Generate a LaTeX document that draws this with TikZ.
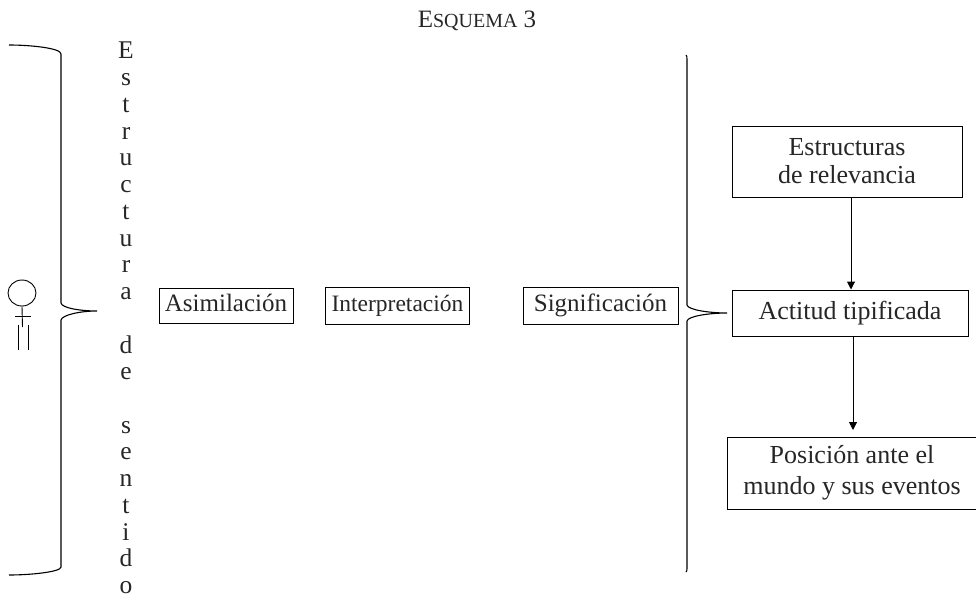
\documentclass[tikz,border=0pt]{standalone}
\usepackage{fontspec}
\setmainfont{Liberation Serif}
\usetikzlibrary{arrows.meta,calc,shapes.geometric}
\tikzset{
  box/.style={draw,line width=1pt,inner sep=0pt,align=center,text=black!85},
  rowbox/.style={box,text height=17pt,text depth=5pt,minimum height=37pt},
  flow/.style={draw,line width=1pt,-{Triangle[length=8pt,width=8pt]}},
  bracecurve/.style={draw,line width=1.1pt},
  symb/.style={draw,line width=0.9pt}
}
\begin{document}
\begin{tikzpicture}[x=1pt,y=-1pt]
\useasboundingbox (0,0) rectangle (976,594);
\node[text=black!85,font=\fontsize{25}{28}\selectfont,anchor=base] (title) at (477,28) {E{\fontsize{20}{24}\selectfont SQUEMA} 3};
\node[inner sep=0pt,align=center,text=black!85,font=\fontsize{25.5}{26.75}\selectfont,anchor=north] (vert) at (126,42)
 {E\\s\\t\\r\\u\\c\\t\\u\\r\\a\\[26.6pt]d\\e\\[26.6pt]s\\e\\n\\t\\i\\d\\o};
\path[bracecurve] (9,45) .. controls (30,45) and (61,48) .. (61,54) -- (61,303) .. controls (62,308) and (80,311) .. (97,311) .. controls (80,311) and (62,315) .. (61,320) -- (61,567) .. controls (61,572) and (30,575) .. (9,575);
\path[bracecurve] (686,55) .. controls (687,56) and (687,57) .. (687,60) -- (687,305) .. controls (688,310) and (710,313) .. (727,313) .. controls (710,313) and (688,316) .. (687,321) -- (687,568) .. controls (687,570) and (687,571) .. (686,572);
\node[rowbox,font=\fontsize{25}{29}\selectfont,minimum width=134pt,minimum height=35pt] (asi) at (226,305.5) {Asimilación};
\node[rowbox,font=\fontsize{23.5}{29}\selectfont,minimum width=144pt] (int) at (397.5,305.5) {Interpretación};
\node[rowbox,font=\fontsize{25}{29}\selectfont,minimum width=155pt] (sig) at (600.5,305.5) {Significación};
\node[box,font=\fontsize{26}{28}\selectfont,minimum width=230pt,minimum height=71pt] (est) at (847,161.5) {Estructuras\\de relevancia};
\node[box,font=\fontsize{26}{29}\selectfont,minimum width=236pt,minimum height=46pt] (act) at (850,313) {Actitud tipificada};
\node[box,font=\fontsize{26}{31}\selectfont,minimum width=250pt,minimum height=72pt] (pos) at (852,473) {Posición ante el\\mundo y sus eventos};
\draw[flow] ([xshift=4pt]est.south) -- ([xshift=1pt]act.north);
\coordinate (gap) at (853,430);
\draw[flow] ([xshift=3pt]act.south) -- (gap);
\node[symb,ellipse,inner sep=0pt,minimum width=28pt,minimum height=26pt] (head) at (22,293) {};
\coordinate (neck) at (22.5,327);
\draw[symb] (head.south) -- (neck);
\draw[symb] (15,316) -- (31,316);
\draw[symb] (18,325) -- (18,350);
\draw[symb] (28,325) -- (28,350);
\end{tikzpicture}
\end{document}
